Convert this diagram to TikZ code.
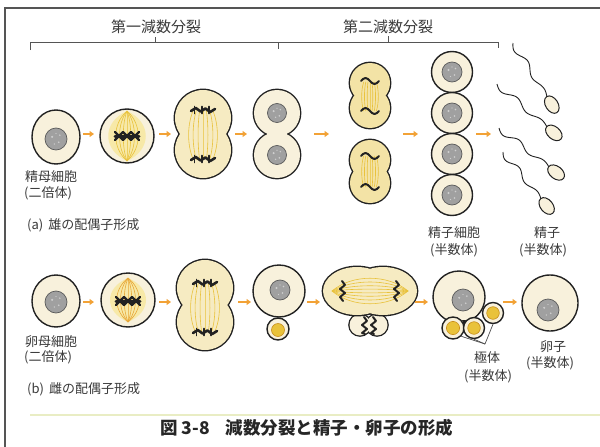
\documentclass[tikz,border=0pt]{standalone}
\usepackage{fontspec}
\newfontfamily\jp{Noto Sans CJK JP}
\usetikzlibrary{shapes.geometric,arrows.meta}

\definecolor{ink}{HTML}{222222}
\definecolor{labelc}{HTML}{3A3A3A}
\definecolor{framec}{HTML}{555555}
\definecolor{cyto}{HTML}{F8F1DC}
\definecolor{cytoy}{HTML}{F6EBC2}
\definecolor{cytoyy}{HTML}{F3E3A6}
\definecolor{spin}{HTML}{E9C23C}
\definecolor{spinor}{HTML}{E8A838}
\definecolor{spinbg}{HTML}{F7E9A8}
\definecolor{arrowc}{HTML}{F2A236}
\definecolor{nucfill}{HTML}{A0A0A0}
\definecolor{nucedge}{HTML}{5A5A5A}
\definecolor{pbyellow}{HTML}{E9C23A}
\definecolor{pbedge}{HTML}{C8901E}
\definecolor{sepc}{HTML}{E9EDC4}

% two overlapping round lobes with one shared outline (upper/lower)
\newcommand\lobepair[5]{%
  \draw[ink,line width=2.8pt] (#1,#2) circle[radius=#4] (#1,#3) circle[radius=#4];
  \fill[#5] (#1,#2) circle[radius=#4] (#1,#3) circle[radius=#4];}
% grey nucleus with a few light flecks
\newcommand\nucl[3]{%
  \fill[nucfill] (#1,#2) circle[radius=#3];
  \draw[nucedge,line width=0.7pt] (#1,#2) circle[radius=#3];
  \fill[white,opacity=0.5] (#1-0.35*#3,#2-0.2*#3) circle[radius=1.1]
     (#1+0.25*#3,#2+0.3*#3) circle[radius=0.9] (#1+0.35*#3,#2-0.35*#3) circle[radius=0.8]
     (#1-0.15*#3,#2+0.45*#3) circle[radius=0.7] (#1,#2-0.5*#3) circle[radius=0.6];}
% paired chromosomes lined up on the equator
\newcommand\tetrads[2]{%
  \draw[chromo,line width=3pt] (#1-12,#2) -- (#1+12,#2);
  \foreach \d in {-8,0,8}{%
    \draw[chromo,line width=2.2pt] (#1+\d-4,#2-4) -- (#1+\d+4,#2+4) (#1+\d-4,#2+4) -- (#1+\d+4,#2-4);}}
% chromosome group moving to a pole
\newcommand\chrband[3]{%
  \draw[chromo] (#1-#3,#2+1) -- (#1-0.6*#3,#2-2) -- (#1-0.2*#3,#2+1.5) -- (#1+0.2*#3,#2-1.5) -- (#1+0.6*#3,#2+2) -- (#1+#3,#2-1);
  \draw[chromo,line width=1.6pt] (#1-0.7*#3,#2-3.5) -- (#1-0.7*#3,#2+3.5) (#1-0.1*#3,#2-3.5) -- (#1-0.1*#3,#2+3.5) (#1+0.5*#3,#2-3.5) -- (#1+0.5*#3,#2+3.5);}
% single wavy chromatid group
\newcommand\wavechr[2]{%
  \draw[chromo,line width=2pt] (#1-9,#2) sin (#1-4.5,#2-3) cos (#1,#2) sin (#1+4.5,#2+3) cos (#1+9,#2);}
% upright wavy chromosomes (horizontal spindle)
\newcommand\vchr[3]{%
  \draw[chromo,line width=2pt] (#1,#2) -- (#1+3,#2+4) -- (#1-2,#2+8) -- (#1+3,#2+12) -- (#1-2,#2+16) -- (#1+1,#3);}
% sperm: wavy tail from (#2,#3) to the neck (#4,#5), head named #1
\newcommand\spermcell[5]{%
  \pgfmathsetmacro\sdx{#4-#2}\pgfmathsetmacro\sdy{#5-#3}%
  \pgfmathsetmacro\slen{veclen(\sdx,\sdy)}%
  \pgfmathsetmacro\spx{-1*(\sdy)/\slen}\pgfmathsetmacro\spy{\sdx/\slen}%
  \pgfmathsetmacro\sang{atan2(-1*(\sdy),\sdx)}%
  \draw[ink,line width=0.9pt] plot[domain=0:1,samples=60,variable=\t]
     ({#2+\sdx*\t+3.6*sin(2*360*\t)*\spx*(1-0.5*\t)},{#3+\sdy*\t+3.6*sin(2*360*\t)*\spy*(1-0.5*\t)});
  \node[headshape,rotate=\sang] (#1) at ({#4+9*\sdx/\slen},{#5+9*\sdy/\slen}) {};}

\begin{document}
\begin{tikzpicture}[x=1pt,y=-1pt,
  every node/.style={inner sep=0pt,text=labelc},
  lab/.style={font=\jp\fontsize{13}{15}\selectfont},
  title/.style={font=\jp\fontsize{15}{17}\selectfont},
  cellbody/.style={draw=ink,line width=1.4pt,fill=cyto},
  fwd/.style={-{Triangle[length=4.5pt,width=6pt]},arrowc,line width=2.2pt},
  fibre/.style={spin,line width=0.6pt},
  fibreor/.style={spinor,line width=0.6pt},
  chromo/.style={ink,line width=2.6pt,line cap=round,line join=round},
  headshape/.style={ellipse,draw=ink,line width=1pt,fill=cyto,minimum width=19pt,minimum height=12.5pt},
  brk/.style={framec,line width=1pt},
  pointer/.style={ink!80,line width=0.7pt}]
\useasboundingbox (0,0) rectangle (600,447);
\fill[white] (0,0) rectangle (600,447);

% frame
\draw[framec,line width=1.4pt] (5,447) -- (5,8) -- (600,8);
\draw[sepc,line width=2pt] (30,415) -- (600,415);

% division brackets
\coordinate (bkl) at (30,50);
\coordinate (bkm) at (278,49);
\coordinate (bkr) at (498,48);
\draw[brk] (bkl) -- (30,42) -- (498,42) -- (bkr);
\draw[brk] (278,42) -- (bkm);
\draw[brk] (155,42) -- (155,37);
\draw[brk] (388,42) -- (388,36);
\node[title] (t1) at (156,27) {第一減数分裂};
\node[title] (t2) at (388,27) {第二減数分裂};

% ---------- (a) male ----------
\node[cellbody,ellipse,minimum width=48pt,minimum height=54pt] (ma1) at (56,137) {};
\nucl{56}{139}{11}

\node[cellbody,circle,minimum size=54pt] (ma2) at (127,136) {};
\fill[spinbg] (127,111) .. controls (152,122) and (152,150) .. (127,161) .. controls (102,150) and (102,122) .. (127,111);
\foreach \k in {-15,-10,-5,0,5,10,15}
  \draw[fibre] (127,111) .. controls (127+\k,124) and (127+\k,148) .. (127,161);
\tetrads{127}{136}

\lobepair{203}{118}{150}{28}{cytoy}
\foreach \k in {-16,-11,-5.5,0,5.5,11,16}
  \draw[fibre] (203+0.6*\k,110) .. controls (203+\k,125) and (203+\k,145) .. (203+0.6*\k,160);
\chrband{203}{110}{12}
\chrband{203}{159}{12}

\lobepair{277}{113}{155}{23}{cyto}
\nucl{277}{113}{9.5}
\nucl{277}{155}{9.5}

\lobepair{370}{83}{108}{20}{cytoyy}
\lobepair{370}{160}{183}{20}{cytoyy}
\foreach \k in {-9,-6,-3,0,3,6,9}{
  \draw[fibre] (370+0.7*\k,82) .. controls (370+\k,90) and (370+\k,103) .. (370+0.7*\k,111);
  \draw[fibre] (370+0.7*\k,156) .. controls (370+\k,164) and (370+\k,179) .. (370+0.7*\k,187);}
\wavechr{370}{81}
\wavechr{370}{111}
\wavechr{370}{156}
\wavechr{370}{187}

\foreach \n/\yy in {1/72,2/113,3/154,4/195}{
  \node[cellbody,circle,minimum size=41pt] (st\n) at (452,\yy) {};
  \nucl{452}{\yy}{10}}

\spermcell{sp1}{513}{43}{547}{97}
\spermcell{sp2}{497}{84}{547}{127}
\spermcell{sp3}{499}{128}{549}{167}
\spermcell{sp4}{503}{152}{541}{199}

\foreach \n/\xa/\xb in {1/83/94,2/159/171,3/235/247,4/314/329,5/403/418,6/476/491}{
  \coordinate (ra\n s) at (\xa,134);
  \coordinate (ra\n e) at (\xb,134);
  \draw[fwd] (ra\n s) -- (ra\n e);}

\node[lab,anchor=west] (la1) at (25,177) {精母細胞};
\node[lab,anchor=west] (la2) at (24,193) {(二倍体)};
\node[lab,anchor=west] (la3) at (27,225) {(a)\, 雄の配偶子形成};
\node[lab] (la4) at (454,233) {精子細胞};
\node[lab] (la5) at (454,250) {(半数体)};
\node[lab] (la6) at (547,233) {精子};
\node[lab] (la7) at (543,250) {(半数体)};

% ---------- (b) female ----------
\node[cellbody,ellipse,minimum width=48pt,minimum height=52pt] (fb1) at (56,301) {};
\nucl{56}{302}{11}

\node[cellbody,circle,minimum size=54pt] (fb2) at (128,300) {};
\fill[spinbg] (128,278) .. controls (152,288) and (152,312) .. (128,322) .. controls (104,312) and (104,288) .. (128,278);
\foreach \k in {-15,-10,-5,0,5,10,15}
  \draw[fibreor] (128,278) .. controls (128+\k,290) and (128+\k,310) .. (128,322);
\tetrads{128}{301}

\lobepair{205}{288}{322}{28}{cytoy}
\foreach \k in {-16,-11,-5.5,0,5.5,11,16}
  \draw[fibre] (205+0.6*\k,283) .. controls (205+\k,298) and (205+\k,318) .. (205+0.6*\k,332);
\chrband{205}{283}{12}
\chrband{205}{332}{12}

\node[cellbody,circle,minimum size=52pt] (fb4) at (279,291) {};
\nucl{280}{290}{10}
\node[cellbody,circle,minimum size=22pt] (pb0) at (278,329) {};
\fill[pbyellow] (278,330) circle[radius=6.5];
\draw[pbedge,line width=0.6pt] (278,330) circle[radius=6.5];

% dividing first polar body under the second-division oocyte
\draw[ink,line width=2.6pt] (360,325) circle[radius=10.5] (377,325) circle[radius=10.5];
\fill[cyto] (360,325) circle[radius=10.5] (377,325) circle[radius=10.5];
\vchr{364}{317}{334}
\vchr{373}{317}{334}
\draw[ink,line width=2.8pt] (357,291) ellipse[x radius=34,y radius=24] (383,291) ellipse[x radius=34,y radius=24];
\fill[cytoy] (357,291) ellipse[x radius=34,y radius=24] (383,291) ellipse[x radius=34,y radius=24];
\foreach \k in {-17,-12,-7,-2.5,2.5,7,12,17}
  \draw[fibre] (332,291) .. controls (352,291+\k) and (388,291+\k) .. (408,291);
\vchr{342}{281}{301}
\vchr{396}{281}{301}

\node[cellbody,circle,minimum size=52pt] (fb6) at (459,297) {};
\nucl{463}{300}{11}
\foreach \n/\px/\py/\pr in {1/453/328/11,2/474/328/10.5,3/493/313/10.5}{
  \node[cellbody,circle,minimum size=2*\pr pt] (pb\n) at (\px,\py) {};
  \fill[pbyellow] (\px,\py) circle[radius=0.6*\pr];
  \draw[pbedge,line width=0.6pt] (\px,\py) circle[radius=0.6*\pr];}
\fill[ink] (462,320) -- (466,320) -- (464,325) -- cycle;
\coordinate (pbtip) at (485,344);
\draw[pointer] (pbtip) -- (pb1.south east);
\draw[pointer] (pbtip) -- (pb2.south);
\draw[pointer] (pbtip) -- (pb3.south);

\node[cellbody,circle,minimum size=56pt] (fb7) at (550,303) {};
\nucl{548}{310}{11}

\foreach \n/\xa/\xb in {1/83/94,2/159/171,3/238/251,4/307/320,5/415/428,6/503/517}{
  \coordinate (rb\n s) at (\xa,302);
  \coordinate (rb\n e) at (\xb,302);
  \draw[fwd] (rb\n s) -- (rb\n e);}

\node[lab,anchor=west] (lb1) at (25,342) {卵母細胞};
\node[lab,anchor=west] (lb2) at (24,357) {(二倍体)};
\node[lab,anchor=west] (lb3) at (27,389) {(b)\, 雌の配偶子形成};
\node[lab] (lb4) at (487,358) {極体};
\node[lab] (lb5) at (488,376) {(半数体)};
\node[lab] (lb6) at (553,347) {卵子};
\node[lab] (lb7) at (550,363) {(半数体)};

% caption
\node[font=\jp\bfseries\fontsize{17.5}{20}\selectfont,text=black!85,anchor=west] (cap) at (160,428)
  {図 3-8\hspace{16pt}減数分裂と精子・卵子の形成};
\end{tikzpicture}
\end{document}
